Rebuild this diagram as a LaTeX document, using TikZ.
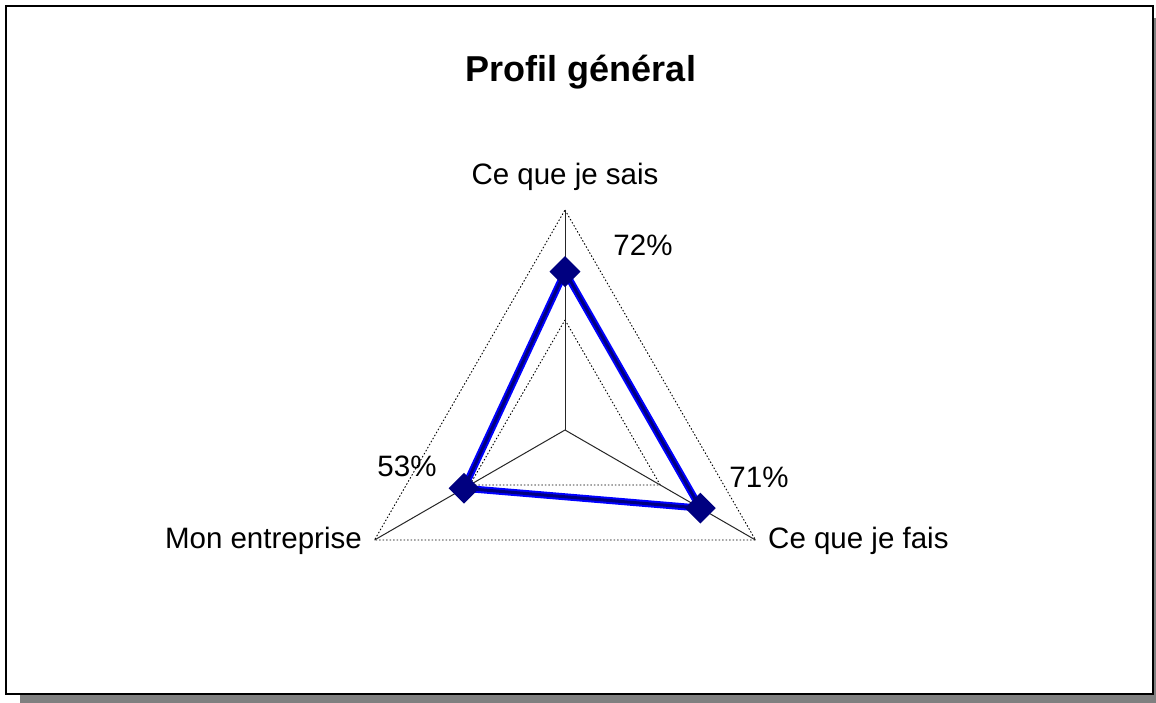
\documentclass[tikz,border=0pt]{standalone}
\usepackage{fontspec}
\setmainfont{Liberation Sans}
\usetikzlibrary{shapes.geometric}
\definecolor{navyc}{RGB}{0,0,128}
\definecolor{bluec}{RGB}{0,0,255}
\definecolor{shadowc}{RGB}{128,128,128}
\tikzset{
  lbl/.style={font=\fontsize{29.5}{32}\selectfont, inner sep=0pt},
  ttl/.style={font=\fontsize{36}{40}\selectfont\bfseries, inner sep=0pt},
  grid/.style={black, line width=0.9pt, dash pattern=on 1.5pt off 2pt},
  axis/.style={black!85, line width=1pt},
  marker/.style={diamond, fill=navyc, draw=none, minimum width=31pt, minimum height=31pt, inner sep=0pt},
}
\begin{document}
\begin{tikzpicture}[x=1pt,y=-1pt]
\useasboundingbox (0,0) rectangle (1156,702);
% shadow and frame
\fill[shadowc] (20,18) rectangle (1160,706);
\draw[fill=white, line width=2pt] (6,6) rectangle (1153,694);
% title
\node[ttl] (title) at (581,72) {Profil général};
% chart geometry
\coordinate (c) at (565,430);
\coordinate (vt) at (565,210);
\coordinate (vr) at (755.5,540);
\coordinate (vl) at (374.5,540);
\coordinate (ht) at (565,320);
\coordinate (hr) at (660.25,485);
\coordinate (hl) at (469.75,485);
% grid triangles
\draw[grid] (vt) -- (vr) -- (vl) -- cycle;
\draw[grid] (ht) -- (hr) -- (hl) -- cycle;
% axes
\draw[axis] (c) -- (vt);
\draw[axis] (c) -- (vr);
\draw[axis] (c) -- (vl);
% data
\coordinate (d1) at (565,271.6);
\coordinate (d2) at (700.3,508.1);
\coordinate (d3) at (464,488.3);
\draw[bluec, line width=7pt, line join=miter] (d1) -- (d2) -- (d3) -- cycle;
\draw[navyc, line width=3pt, line join=miter] (d1) -- (d2) -- (d3) -- cycle;
\node[marker] (m1) at (d1) {};
\node[marker] (m2) at (d2) {};
\node[marker] (m3) at (d3) {};
% labels
\node[lbl] (lt) at (565,177) {Ce que je sais};
\node[lbl, anchor=west] (lr) at (768,541) {Ce que je fais};
\node[lbl, anchor=east] (ll) at (362,541) {Mon entreprise};
\node[lbl] (v1) at (643,245) {72\%};
\node[lbl] (v2) at (759,477) {71\%};
\node[lbl] (v3) at (407,466) {53\%};
\end{tikzpicture}
\end{document}
